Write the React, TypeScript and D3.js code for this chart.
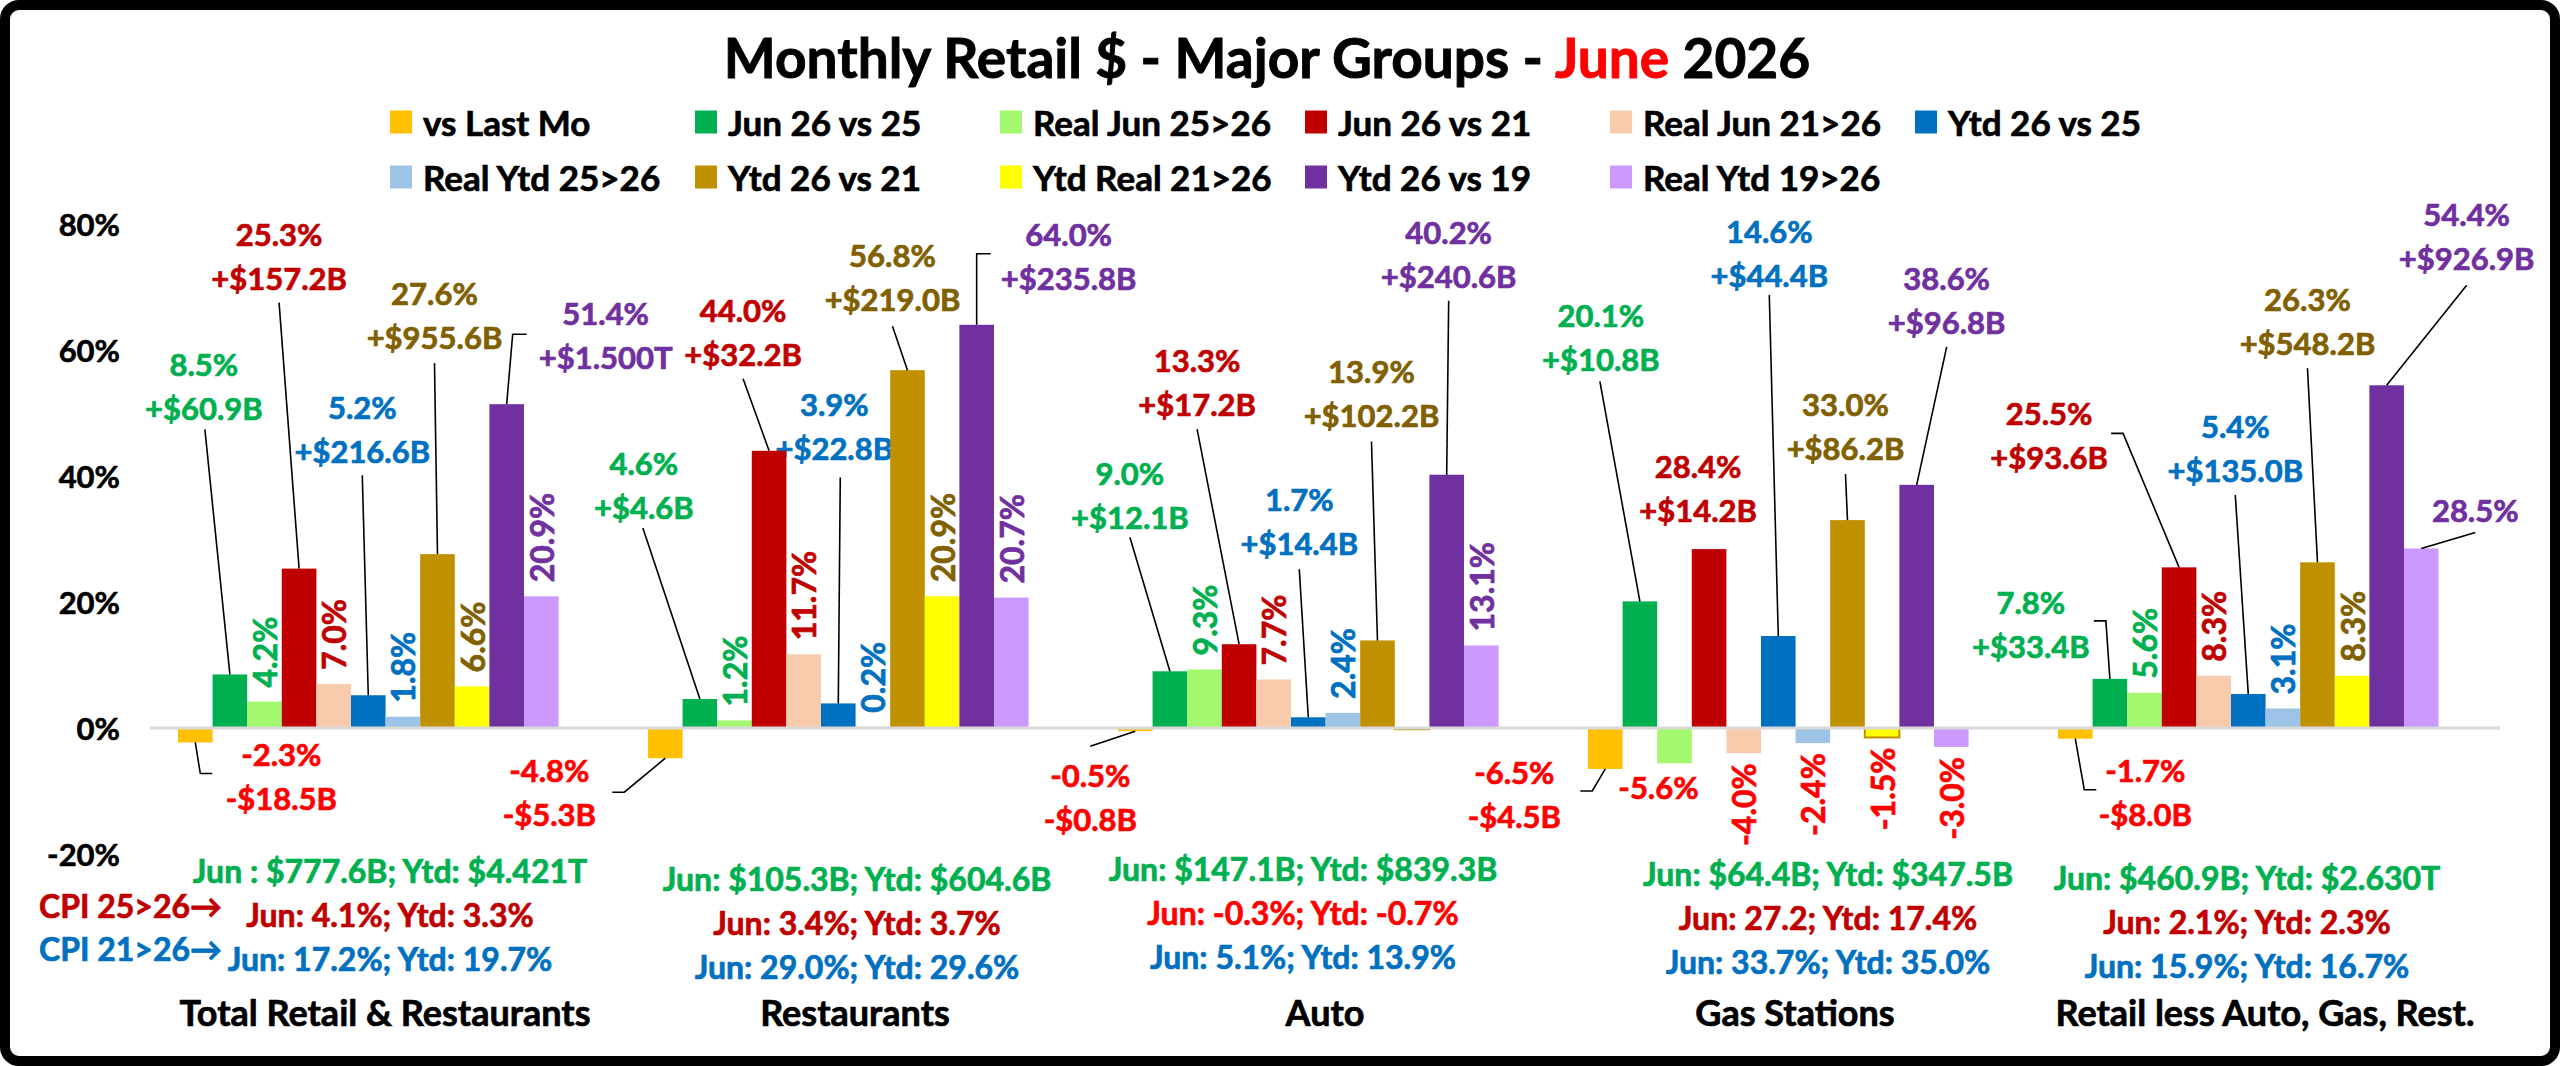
import React from 'react';
import * as d3 from 'd3';

// ---- data ----
const categories = [
  'Total Retail & Restaurants',
  'Restaurants',
  'Auto',
  'Gas Stations',
  'Retail less Auto, Gas, Rest.',
];

const seriesNames = [
  'vs Last Mo',
  'Jun 26 vs 25',
  'Real Jun 25>26',
  'Jun 26 vs 21',
  'Real Jun 21>26',
  'Ytd 26 vs 25',
  'Real Ytd 25>26',
  'Ytd 26 vs 21',
  'Ytd Real 21>26',
  'Ytd 26 vs 19',
  'Real Ytd 19>26',
];

const vsLastMo = [-2.3, -4.8, -0.5, -6.5, -1.7];
const jun26vs25 = [8.5, 4.6, 9.0, 20.1, 7.8];
const realJun25to26 = [4.2, 1.2, 9.3, -5.6, 5.6];
const jun26vs21 = [25.3, 44.0, 13.3, 28.4, 25.5];
const realJun21to26 = [7.0, 11.7, 7.7, -4.0, 8.3];
const ytd26vs25 = [5.2, 3.9, 1.7, 14.6, 5.4];
const realYtd25to26 = [1.8, 0.2, 2.4, -2.4, 3.1];
const ytd26vs21 = [27.6, 56.8, 13.9, 33.0, 26.3];
const ytdReal21to26 = [6.6, 20.9, -0.2, -1.5, 8.3];
const ytd26vs19 = [51.4, 64.0, 40.2, 38.6, 54.4];
const realYtd19to26 = [20.9, 20.7, 13.1, -3.0, 28.5];

const vsLastMoAmt = ['-$18.5B', '-$5.3B', '-$0.8B', '-$4.5B', '-$8.0B'];
const jun26vs25Amt = ['+$60.9B', '+$4.6B', '+$12.1B', '+$10.8B', '+$33.4B'];
const jun26vs21Amt = ['+$157.2B', '+$32.2B', '+$17.2B', '+$14.2B', '+$93.6B'];
const ytd26vs25Amt = ['+$216.6B', '+$22.8B', '+$14.4B', '+$44.4B', '+$135.0B'];
const ytd26vs21Amt = ['+$955.6B', '+$219.0B', '+$102.2B', '+$86.2B', '+$548.2B'];
const ytd26vs19Amt = ['+$1.500T', '+$235.8B', '+$240.6B', '+$96.8B', '+$926.9B'];

const salesLines = [
  'Jun : $777.6B; Ytd: $4.421T',
  'Jun: $105.3B; Ytd: $604.6B',
  'Jun: $147.1B; Ytd: $839.3B',
  'Jun: $64.4B; Ytd: $347.5B',
  'Jun: $460.9B; Ytd: $2.630T',
];
const cpi25Lines = [
  'Jun: 4.1%; Ytd: 3.3%',
  'Jun: 3.4%; Ytd: 3.7%',
  'Jun: -0.3%; Ytd: -0.7%',
  'Jun: 27.2; Ytd: 17.4%',
  'Jun: 2.1%; Ytd: 2.3%',
];
const cpi21Lines = [
  'Jun: 17.2%; Ytd: 19.7%',
  'Jun: 29.0%; Ytd: 29.6%',
  'Jun: 5.1%; Ytd: 13.9%',
  'Jun: 33.7%; Ytd: 35.0%',
  'Jun: 15.9%; Ytd: 16.7%',
];

const yTicks = [-20, 0, 20, 40, 60, 80];

const seriesValues = [
  vsLastMo, jun26vs25, realJun25to26, jun26vs21, realJun21to26,
  ytd26vs25, realYtd25to26, ytd26vs21, ytdReal21to26, ytd26vs19, realYtd19to26,
];
const amountLabels: (string[] | null)[] = [
  vsLastMoAmt, jun26vs25Amt, null, jun26vs21Amt, null,
  ytd26vs25Amt, null, ytd26vs21Amt, null, ytd26vs19Amt, null,
];

// ---- styles ----
const barColors = [
  '#FFC000', '#00B050', '#A3F870', '#C00000', '#F8CBAD',
  '#0070C0', '#9DC3E6', '#BF9000', '#FFFF00', '#7030A0', '#CC99FF',
];
const labelColors = [
  '#FF0000', '#00B050', '#00B050', '#C00000', '#C00000',
  '#0070C0', '#0070C0', '#806000', '#806000', '#7030A0', '#7030A0',
];
const cpi25Colors = ['#C00000', '#C00000', '#FF0000', '#C00000', '#C00000'];

const FONT = "Lato, 'Open Sans', 'DejaVu Sans', sans-serif";
const W = 2560;
const H = 1066;

// hand-placed callouts (offsets from the bar end, px), like the dragged Excel labels
type Callout = { dx: number; dy: number; leader?: number[][] };
const callouts: Record<number, Callout[]> = {
  0: [
    { dx: 86, dy: 34, leader: [[0, 0], [5, 31], [17, 31]] },
    { dx: -116, dy: 34, leader: [[0, 0], [-41, 34], [-53, 34]] },
    { dx: -45, dy: 66, leader: [[0, 0], [-45, 15]] },
    { dx: -91, dy: 25, leader: [[0, 0], [-13, 22], [-25, 22]] },
    { dx: 70, dy: 53, leader: [[0, 0], [9, 51], [21, 51]] },
  ],
  1: [
    { dx: -26, dy: -288, leader: [[0, 0], [-25, -245]] },
    { dx: -56, dy: -214, leader: [[0, 0], [-57, -171]] },
    { dx: -40, dy: -176, leader: [[0, 0], [-40, -134]] },
    { dx: -39, dy: -264, leader: [[0, 0], [-40, -220]] },
    { dx: -79, dy: -55, leader: [[0, 0], [-4, -58], [-16, -58]] },
  ],
  3: [
    { dx: -20, dy: -313, leader: [[0, 0], [-20, -266]] },
    { dx: -26, dy: -119, leader: [[0, 0], [-26, -72]] },
    { dx: -42, dy: -262, leader: [[0, 0], [-42, -215]] },
    { dx: -11, dy: -61 },
    { dx: -130, dy: -132, leader: [[0, 0], [-56, -134], [-68, -134]] },
  ],
  5: [
    { dx: -6, dy: -266, leader: [[0, 0], [-6, -220]] },
    { dx: -4, dy: -277, leader: [[0, 0], [2, -226]] },
    { dx: -9, dy: -196, leader: [[0, 0], [-9, -148]] },
    { dx: -9, dy: -383, leader: [[0, 0], [-9, -341]] },
    { dx: -13, dy: -246, leader: [[0, 0], [-13, -199]] },
  ],
  7: [
    { dx: -3, dy: -239, leader: [[0, 0], [-3, -191]] },
    { dx: -15, dy: -93, leader: [[0, 0], [-15, -44]] },
    { dx: -6, dy: -247, leader: [[0, 0], [-6, -199]] },
    { dx: -2, dy: -94, leader: [[0, 0], [-2, -46]] },
    { dx: -10, dy: -241, leader: [[0, 0], [-10, -194]] },
  ],
  9: [
    { dx: 99, dy: -69, leader: [[0, 0], [6, -70], [20, -70]] },
    { dx: 92, dy: -69, leader: [[0, 0], [0, -71], [14, -71]] },
    { dx: 2, dy: -221, leader: [[0, 0], [2, -174]] },
    { dx: 30, dy: -185, leader: [[0, 0], [30, -138]] },
    { dx: 80, dy: -149, leader: [[0, 0], [80, -100]] },
  ],
};
// labels that the neighbouring bar partly covers in the original
const behindBars = ['5-1'];
// real-value labels that sit flat instead of rotated, and the one that is hidden
const flatReal: Record<string, Callout> = {
  '2-3': { dx: -16, dy: 24 },
  '10-4': { dx: 54, dy: -38, leader: [[0, 0], [54, -16]] },
};
const hiddenReal = ['8-2'];

const infoDx = [5, 2, -22, 33, -18];
const infoTop = [870, 878, 868, 873, 877];

const pct = (v: number) => `${v.toFixed(1)}%`;

export default function App() {
  const x0 = d3.scaleBand<string>().domain(categories).range([150, 2500]);
  const x1 = d3
    .scaleBand<string>()
    .domain(seriesNames)
    .range([0, x0.bandwidth()])
    .paddingInner(0)
    .paddingOuter(1.292)
    .align(0.313);
  const y = d3.scaleLinear().domain([-20, 80]).range([854, 224]);
  const bw = x1.bandwidth();

  const barX = (ci: number, si: number) => (x0(categories[ci]) ?? 0) + (x1(seriesNames[si]) ?? 0);
  const barC = (ci: number, si: number) => barX(ci, si) + bw / 2;

  const line = d3.line();
  const path = (pts: number[][], xc: number, yEnd: number) =>
    line(pts.map(p => [xc + p[0], yEnd + p[1]] as [number, number])) ?? '';

  const bars: React.ReactNode[] = [];
  const leaders: React.ReactNode[] = [];
  const labels: React.ReactNode[] = [];
  const underLabels: React.ReactNode[] = [];

  seriesValues.forEach((vals, si) => {
    vals.forEach((v, ci) => {
      const xc = barC(ci, si);
      const yEnd = y(v);
      const y0 = y(0);
      bars.push(
        <rect
          key={`b${si}-${ci}`}
          x={barX(ci, si)}
          y={Math.min(yEnd, y0)}
          width={bw}
          height={Math.max(Math.abs(yEnd - y0), 1)}
          fill={barColors[si]}
          stroke={si === 8 && v < 0 ? '#BF9000' : 'none'}
          strokeWidth={2}
        />
      );

      const amts = amountLabels[si];
      const key = `${si}-${ci}`;
      if (amts) {
        const c = callouts[si][ci];
        const lx = xc + c.dx;
        const ly = yEnd + c.dy;
        if (c.leader) {
          leaders.push(
            <path key={`l${key}`} d={path(c.leader, xc, yEnd)} fill="none" stroke="#000" strokeWidth={1.6} />
          );
        }
        const node = (
          <g
            key={`t${key}`}
            fill={labelColors[si]}
            stroke={labelColors[si]}
            strokeWidth={0.7}
            fontSize={31}
            fontWeight="bold"
            textAnchor="middle"
          >
            <text x={lx} y={ly - 22} dominantBaseline="central">{pct(v)}</text>
            <text x={lx} y={ly + 22} dominantBaseline="central">{amts[ci]}</text>
          </g>
        );
        (behindBars.includes(key) ? underLabels : labels).push(node);
      } else if (!hiddenReal.includes(key)) {
        const color = v < 0 ? '#FF0000' : labelColors[si];
        const flat = flatReal[key];
        if (flat) {
          if (flat.leader) {
            leaders.push(
              <path key={`l${key}`} d={path(flat.leader, xc, yEnd)} fill="none" stroke="#000" strokeWidth={1.6} />
            );
          }
          labels.push(
            <text
              key={`t${key}`}
              x={xc + flat.dx}
              y={yEnd + flat.dy}
              fill={color}
              stroke={color}
              strokeWidth={0.7}
              fontSize={31}
              fontWeight="bold"
              textAnchor="middle"
              dominantBaseline="central"
            >
              {pct(v)}
            </text>
          );
        } else {
          const up = v >= 0;
          labels.push(
            <text
              key={`t${key}`}
              transform={`translate(${xc},${up ? yEnd - 14 : yEnd + 10}) rotate(-90)`}
              fill={color}
              stroke={color}
              strokeWidth={0.7}
              fontSize={32}
              fontWeight="bold"
              textAnchor={up ? 'start' : 'end'}
              dominantBaseline="central"
            >
              {pct(v)}
            </text>
          );
        }
      }
    });
  });

  const legendCols = 6;
  const legendX0 = 390;
  const legendStep = 305;
  const legendRows = [122, 177];

  return (
    <svg
      width={W}
      height={H}
      viewBox={`0 0 ${W} ${H}`}
      style={{ position: 'absolute', left: 0, top: 0, display: 'block' }}
      fontFamily={FONT}
    >
      <rect x={5} y={5} width={W - 10} height={H - 10} rx={14} fill="#fff" stroke="#000" strokeWidth={10} />

      <text
        x={1267}
        y={57}
        textAnchor="middle"
        dominantBaseline="central"
        fontSize={55}
        fontWeight="bold"
        fill="#000"
        stroke="#000"
        strokeWidth={0.9}
      >
        <tspan>{'Monthly Retail $ - Major Groups - '}</tspan>
        <tspan fill="#FF0000" stroke="#FF0000">June</tspan>
        <tspan>{' 2026'}</tspan>
      </text>

      {seriesNames.map((name, i) => {
        const col = i % legendCols;
        const row = Math.floor(i / legendCols);
        const lx = legendX0 + col * legendStep;
        const ly = legendRows[row];
        return (
          <g key={name}>
            <rect x={lx} y={ly - 11.5} width={22} height={23} fill={barColors[i]} />
            <text
              x={lx + 33}
              y={ly}
              dominantBaseline="central"
              fontSize={35}
              fontWeight="bold"
              fill="#000"
              stroke="#000"
              strokeWidth={0.7}
            >
              {name}
            </text>
          </g>
        );
      })}

      {yTicks.map(t => (
        <text
          key={t}
          x={120}
          y={y(t)}
          textAnchor="end"
          dominantBaseline="central"
          fontSize={31}
          fontWeight="bold"
          fill="#000"
          stroke="#000"
          strokeWidth={0.6}
        >
          {`${t}%`}
        </text>
      ))}

      {underLabels}
      {bars}
      <line x1={150} x2={2500} y1={y(0)} y2={y(0)} stroke="#D9D9D9" strokeWidth={3} />
      {leaders}
      {labels}

      {categories.map((cat, ci) => {
        const cx = (x0(cat) ?? 0) + x0.bandwidth() / 2;
        const ix = cx + infoDx[ci];
        const top = infoTop[ci];
        return (
          <g key={cat} fontWeight="bold" textAnchor="middle" strokeWidth={0.7}>
            <text x={ix} y={top} dominantBaseline="central" fontSize={32} fill="#00B050" stroke="#00B050">
              {salesLines[ci]}
            </text>
            <text x={ix} y={top + 44} dominantBaseline="central" fontSize={32} fill={cpi25Colors[ci]} stroke={cpi25Colors[ci]}>
              {cpi25Lines[ci]}
            </text>
            <text x={ix} y={top + 88} dominantBaseline="central" fontSize={32} fill="#0070C0" stroke="#0070C0">
              {cpi21Lines[ci]}
            </text>
            <text x={cx} y={1012} dominantBaseline="central" fontSize={36} fill="#000" stroke="#000">
              {cat}
            </text>
          </g>
        );
      })}

      <g fontWeight="bold" fontSize={32} strokeWidth={0.7}>
        <text x={39} y={905} dominantBaseline="central" fill="#C00000" stroke="#C00000">CPI 25&gt;26→</text>
        <text x={39} y={948} dominantBaseline="central" fill="#0070C0" stroke="#0070C0">CPI 21&gt;26→</text>
      </g>
    </svg>
  );
}
